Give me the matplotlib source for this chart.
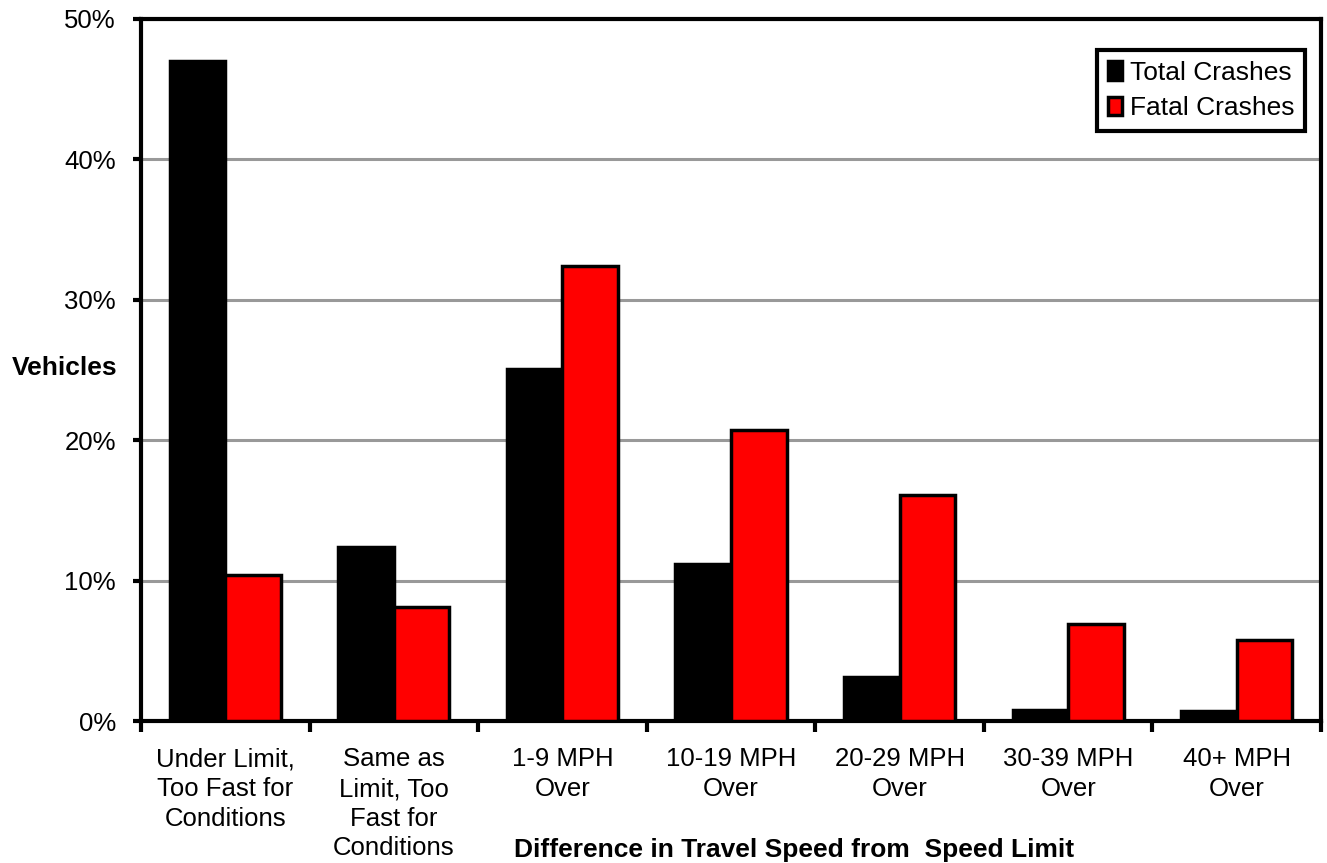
import numpy as np
import matplotlib.pyplot as plt
from matplotlib.ticker import PercentFormatter

plt.rcParams['font.family'] = ['Liberation Sans', 'DejaVu Sans']

# data (% of vehicles)
categories = ['Under Limit,\nToo Fast for\nConditions', 'Same as\nLimit, Too\nFast for\nConditions',
              '1-9 MPH\nOver', '10-19 MPH\nOver', '20-29 MPH\nOver', '30-39 MPH\nOver', '40+ MPH\nOver']
total_crashes = [47.0, 12.4, 25.1, 11.2, 3.1, 0.8, 0.7]
fatal_crashes = [10.4, 8.1, 32.4, 20.7, 16.1, 6.9, 5.8]

fig = plt.figure(figsize=(13.27, 8.63), dpi=100)
ax = fig.add_axes([141 / 1327, 1 - 721 / 863, 1180 / 1327, 702 / 863])

x = np.arange(len(categories))
w = 0.33
ax.bar(x - w / 2, total_crashes, w, color='black', edgecolor='black', linewidth=2.5,
       label='Total Crashes', zorder=3)
ax.bar(x + w / 2, fatal_crashes, w, color='#ff0000', edgecolor='black', linewidth=2.5,
       label='Fatal Crashes', zorder=3)

ax.set_xlim(-0.5, len(categories) - 0.5)
ax.set_ylim(0, 50)
ax.set_yticks(np.arange(0, 51, 10))
ax.yaxis.set_major_formatter(PercentFormatter(decimals=0))
ax.yaxis.grid(True, color='#999999', linewidth=2.2, zorder=0)

# category labels in the middle, ticks on the boundaries
ax.set_xticks(x)
ax.set_xticklabels(categories, fontsize=18.5, linespacing=1.3)
ax.tick_params(axis='x', length=0, pad=19)
ax.set_xticks(np.arange(-0.5, len(categories)), minor=True)
ax.tick_params(axis='x', which='minor', length=8, width=3, direction='out')
ax.tick_params(axis='y', labelsize=18.5, length=6, width=3, direction='out', pad=12)

for sp in ax.spines.values():
    sp.set_linewidth(3)

fig.text(12 / 1327, 1 - 368 / 863, 'Vehicles', fontsize=19, fontweight='bold', va='center')
fig.text(794 / 1327, 1 - 850 / 863, 'Difference in Travel Speed from  Speed Limit',
         fontsize=19, fontweight='bold', ha='center', va='center')

leg = ax.legend(loc='upper right', bbox_to_anchor=(1305 / 1327, 1 - 50 / 863),
                bbox_transform=fig.transFigure, fontsize=19, fancybox=False,
                handlelength=0.55, handleheight=0.7, handletextpad=0.3,
                borderpad=0.4, labelspacing=0.45, borderaxespad=0, framealpha=1)
leg.get_frame().set_edgecolor('black')
leg.get_frame().set_linewidth(3)

fig.savefig('out.png', dpi=100)
